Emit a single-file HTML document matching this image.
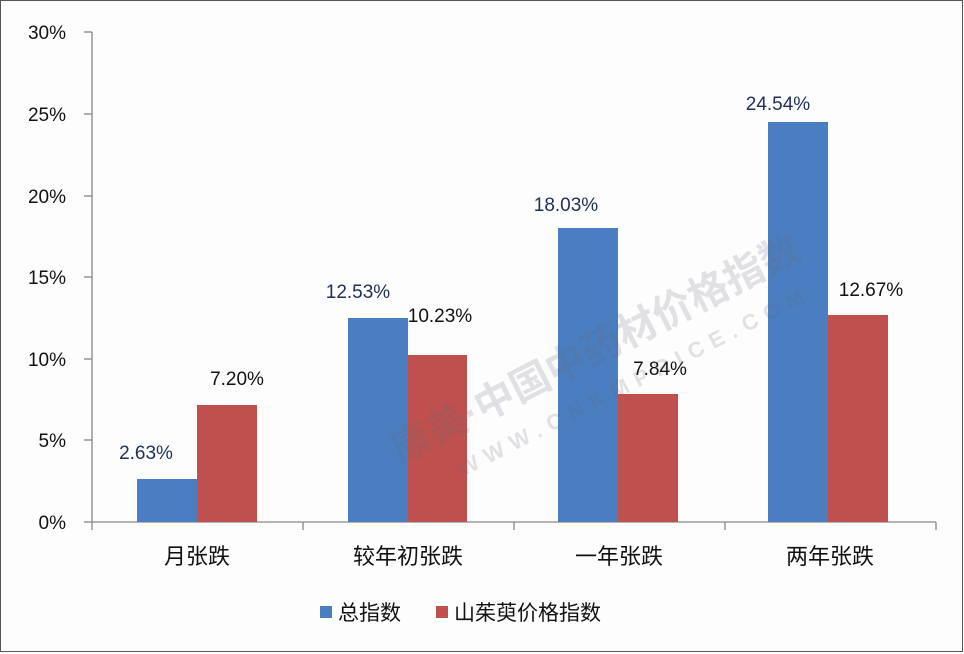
<!DOCTYPE html>
<html><head><style>body{margin:0;background:#fff}</style></head><body>
<svg width="964" height="654" xmlns="http://www.w3.org/2000/svg" style="display:block;font-family:'Liberation Sans','Noto Sans CJK SC',sans-serif">
<rect x="0.5" y="0.5" width="962" height="651" fill="#fdfdfe" stroke="#555" stroke-width="1"/>
<g stroke="#888" stroke-width="1.3">
<line x1="92" y1="32" x2="92" y2="530"/>
<line x1="92" y1="522" x2="936" y2="522"/>
<line x1="84" y1="32" x2="92" y2="32"/><line x1="84" y1="114" x2="92" y2="114"/><line x1="84" y1="196" x2="92" y2="196"/><line x1="84" y1="277" x2="92" y2="277"/><line x1="84" y1="359" x2="92" y2="359"/><line x1="84" y1="440" x2="92" y2="440"/><line x1="84" y1="522" x2="92" y2="522"/>
<line x1="303" y1="522" x2="303" y2="530"/><line x1="514" y1="522" x2="514" y2="530"/><line x1="725" y1="522" x2="725" y2="530"/><line x1="936" y1="522" x2="936" y2="530"/>
</g>
<g font-size="19" fill="#111" text-anchor="end">
<text x="66" y="39">30%</text><text x="66" y="121">25%</text><text x="66" y="203">20%</text><text x="66" y="284">15%</text><text x="66" y="366">10%</text><text x="66" y="447">5%</text><text x="66" y="529">0%</text>
</g>
<g fill="#4a7ec0">
<rect x="137" y="479" width="60" height="43"/>
<rect x="348" y="318" width="60" height="204"/>
<rect x="558" y="228" width="60" height="294"/>
<rect x="768" y="122" width="60" height="400"/>
</g>
<g fill="#c0504d">
<rect x="197" y="405" width="60" height="117"/>
<rect x="408" y="355" width="59" height="167"/>
<rect x="618" y="394" width="60" height="128"/>
<rect x="828" y="315" width="60" height="207"/>
</g>
<g font-size="19" fill="#1f2f55" text-anchor="middle">
<text x="146" y="459">2.63%</text><text x="358" y="298">12.53%</text><text x="566" y="211">18.03%</text><text x="778" y="110">24.54%</text>
</g>
<g font-size="19" fill="#111" text-anchor="middle">
<text x="237" y="385">7.20%</text><text x="440" y="322">10.23%</text><text x="660" y="375">7.84%</text><text x="871" y="296">12.67%</text>
</g>
<g font-size="22" fill="#111" text-anchor="middle">
<text x="197" y="564">月张跌</text><text x="408" y="564">较年初张跌</text><text x="619" y="564">一年张跌</text><text x="830" y="564">两年张跌</text>
</g>
<rect x="320" y="606" width="12" height="12" fill="#4a7ec0"/>
<text x="338" y="620" font-size="21" fill="#111">总指数</text>
<rect x="436" y="606" width="12" height="12" fill="#c0504d"/>
<text x="454" y="620" font-size="21" fill="#111">山茱萸价格指数</text>
<g opacity="0.18" fill="#667" transform="rotate(-27 560 360)">
<text x="370" y="380" font-size="40" font-weight="bold">康美·中国中药材价格指数</text>
<text x="420" y="420" font-size="22" font-weight="bold" letter-spacing="8">WWW.CNKMPRICE.COM</text>
</g>
</svg>
</body></html>
